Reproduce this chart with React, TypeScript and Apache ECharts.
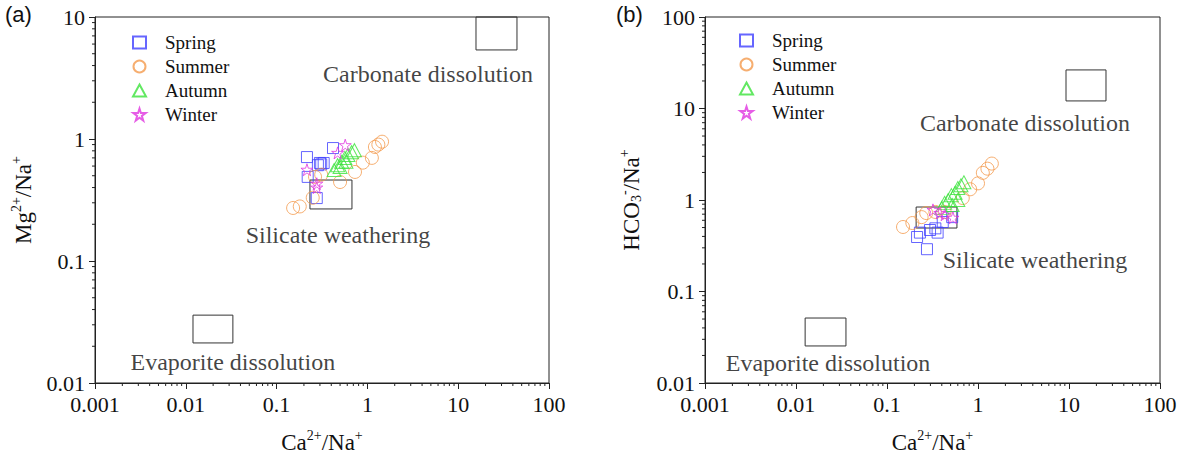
import React, { useEffect, useRef } from "react";
import * as echarts from "echarts";

// ---------- data ----------
const seasons = ["Spring", "Summer", "Autumn", "Winter"];

// Panel (a): Ca2+/Na+ vs Mg2+/Na+
const springA = [[0.216, 0.711], [0.418, 0.843], [0.30, 0.636], [0.33, 0.636], [0.285, 0.61], [0.22, 0.489], [0.277, 0.328], [0.31, 0.62]];
const summerA = [[0.152, 0.272], [0.18, 0.28], [0.25, 0.33], [0.265, 0.49], [0.31, 0.51], [0.50, 0.444], [0.73, 0.537], [0.89, 0.64], [1.12, 0.70], [1.21, 0.86], [1.32, 0.90], [1.45, 0.95]];
const autumnA = [[0.43, 0.557], [0.47, 0.61], [0.50, 0.59], [0.52, 0.65], [0.565, 0.70], [0.58, 0.65], [0.61, 0.74], [0.67, 0.78], [0.72, 0.81]];
const winterA = [[0.57, 0.89], [0.47, 0.77], [0.277, 0.43], [0.277, 0.40], [0.216, 0.56]];

// Panel (b): Ca2+/Na+ vs HCO3-/Na+
const springB = [[0.214, 0.394], [0.275, 0.29], [0.297, 0.47], [0.34, 0.49], [0.41, 0.575], [0.23, 0.44], [0.36, 0.44], [0.52, 0.65]];
const summerB = [[0.15, 0.507], [0.19, 0.56], [0.24, 0.65], [0.27, 0.72], [0.34, 0.74], [0.43, 0.74], [0.68, 1.05], [0.82, 1.31], [1.0, 1.52], [1.13, 1.98], [1.27, 2.2], [1.42, 2.5]];
const autumnB = [[0.40, 0.82], [0.43, 0.93], [0.47, 1.0], [0.51, 1.13], [0.56, 1.2], [0.60, 1.35], [0.65, 1.45], [0.70, 1.56], [0.52, 0.88], [0.60, 1.0]];
const winterB = [[0.32, 0.78], [0.43, 0.69], [0.53, 0.64], [0.38, 0.72]];

// End-member boxes [[xmin, ymin], [xmax, ymax]]
const boxesA = [
  [[15.7, 5.37], [44.4, 10]],
  [[0.233, 0.267], [0.676, 0.461]],
  [[0.012, 0.0213], [0.033, 0.036]],
];
const boxesB = [
  [[9.27, 12.1], [25.5, 26.4]],
  [[0.209, 0.494], [0.587, 0.838]],
  [[0.0126, 0.0254], [0.0354, 0.0513]],
];

// Region labels [x, y, text]
const labelsA: [number, number, string][] = [
  [4.65, 3.41, "Carbonate dissolution"],
  [0.474, 0.163, "Silicate weathering"],
  [0.033, 0.0149, "Evaporite dissolution"],
];
const labelsB: [number, number, string][] = [
  [3.28, 6.95, "Carbonate dissolution"],
  [4.23, 0.221, "Silicate weathering"],
  [0.0225, 0.0166, "Evaporite dissolution"],
];

const xRange = [0.001, 100];
const yRangeA = [0.01, 10];
const yRangeB = [0.01, 100];

// ---------- styling ----------
const SERIF = "'Liberation Serif', 'Times New Roman', serif";
const SANS = "'Liberation Sans', Arial, sans-serif";
const INK = "#111111";
const colors = ["#4040ff", "#f49a4c", "#3be23b", "#e035e0"];
const STAR = "path://M50,2 L61,37 L98,37 L68,59 L79,95 L50,73 L21,95 L32,59 L2,37 L39,37 Z";
const symbols = ["rect", "circle", "triangle", STAR];
const sizes: any[] = [11, 13, [14, 13], 12];

function minorValues(lo: number, hi: number) {
  const out: number[] = [];
  for (let d = lo; d < hi * 0.999; d *= 10) {
    for (let m = 2; m <= 9; m++) out.push(d * m);
  }
  return out;
}

function fmt(v: number) {
  return String(Number(v.toPrecision(1)));
}

function buildPanel(idx: number, yRange: number[], data: number[][][], boxes: number[][][], labels: [number, number, string][]) {
  const series: any[] = [];
  data.forEach((d, i) => {
    series.push({
      type: "scatter",
      name: seasons[i],
      xAxisIndex: idx,
      yAxisIndex: idx,
      data: d,
      symbol: symbols[i],
      symbolSize: sizes[i],
      itemStyle: { color: "rgba(0,0,0,0)", borderColor: colors[i], borderWidth: 1 },
      emphasis: { disabled: true },
      z: 3,
    });
  });
  // boxes + region labels
  series.push({
    type: "scatter",
    name: "regions" + idx,
    xAxisIndex: idx,
    yAxisIndex: idx,
    symbolSize: 0,
    silent: true,
    data: labels.map((l) => ({ value: [l[0], l[1]], name: l[2] })),
    label: {
      show: true,
      position: "inside",
      formatter: "{b}",
      fontFamily: SERIF,
      fontSize: 24,
      color: INK,
    },
    markArea: {
      silent: true,
      itemStyle: { color: "rgba(0,0,0,0)", borderColor: "#333", borderWidth: 1 },
      data: boxes.map((b) => [{ coord: b[0] }, { coord: b[1] }]),
    },
  });
  // minor ticks on x axis
  series.push({
    type: "custom",
    name: "xminor" + idx,
    xAxisIndex: idx,
    yAxisIndex: idx,
    silent: true,
    clip: false,
    data: minorValues(xRange[0], xRange[1]).map((v) => [v, yRange[0]]),
    renderItem: (params: any, api: any) => {
      const p = api.coord([api.value(0), api.value(1)]);
      return { type: "line", shape: { x1: p[0], y1: p[1], x2: p[0], y2: p[1] + 3 }, style: { stroke: "#222", lineWidth: 1 } };
    },
  });
  // minor ticks on y axis
  series.push({
    type: "custom",
    name: "yminor" + idx,
    xAxisIndex: idx,
    yAxisIndex: idx,
    silent: true,
    clip: false,
    data: minorValues(yRange[0], yRange[1]).map((v) => [xRange[0], v]),
    renderItem: (params: any, api: any) => {
      const p = api.coord([api.value(0), api.value(1)]);
      return { type: "line", shape: { x1: p[0], y1: p[1], x2: p[0] - 3, y2: p[1] }, style: { stroke: "#222", lineWidth: 1 } };
    },
  });
  return series;
}

const axisCommon = {
  type: "log",
  logBase: 10,
  axisLine: { show: true, lineStyle: { color: "#222", width: 1 } },
  axisTick: { show: true, inside: false, length: 6, lineStyle: { color: "#222" } },
  minorTick: { show: false },
  splitLine: { show: false },
  axisLabel: { fontFamily: SERIF, fontSize: 22, color: INK, formatter: fmt },
};

const richCommon = {
  n: { fontFamily: SERIF, fontSize: 23, color: INK, lineHeight: 26, verticalAlign: "bottom" },
  s: { fontFamily: SERIF, fontSize: 14, color: INK, lineHeight: 26, verticalAlign: "top" },
  b: { fontFamily: SERIF, fontSize: 14, color: INK, lineHeight: 26, verticalAlign: "bottom" },
};

const legendCommon = {
  data: seasons,
  orient: "vertical",
  padding: 0,
  itemWidth: 13,
  itemHeight: 12,
  itemGap: 5,
  selectedMode: false,
  textStyle: { fontFamily: SERIF, fontSize: 19, color: INK, padding: [0, 0, 0, 14] },
};

export default function App() {
  const ref = useRef<HTMLDivElement>(null);
  useEffect(() => {
    document.body.style.margin = "0";
    const chart = echarts.init(ref.current!, undefined, { renderer: "svg" });
    const option: any = {
      animation: false,
      backgroundColor: "#ffffff",
      grid: [
        { left: 95, right: 633, top: 17, bottom: 76, show: true, borderColor: "#222", borderWidth: 1, backgroundColor: "transparent" },
        { left: 705, right: 22, top: 17, bottom: 76, show: true, borderColor: "#222", borderWidth: 1, backgroundColor: "transparent" },
      ],
      xAxis: [0, 1].map((i) => ({
        ...axisCommon,
        gridIndex: i,
        min: xRange[0],
        max: xRange[1],
        axisLabel: { ...axisCommon.axisLabel, margin: 10 },
        name: "{n|Ca}{s|2+}{n|/Na}{s|+}",
        nameLocation: "middle",
        nameGap: 45,
        nameTextStyle: { rich: richCommon },
      })),
      yAxis: [
        {
          ...axisCommon,
          gridIndex: 0,
          min: yRangeA[0],
          max: yRangeA[1],
          axisLabel: { ...axisCommon.axisLabel, margin: 10 },
          name: "{n|Mg}{s|2+}{n|/Na}{s|+}",
          nameLocation: "middle",
          nameGap: 60,
          nameRotate: 90,
          nameTextStyle: { rich: richCommon },
        },
        {
          ...axisCommon,
          gridIndex: 1,
          min: yRangeB[0],
          max: yRangeB[1],
          axisLabel: { ...axisCommon.axisLabel, margin: 10 },
          name: "{n|HCO}{b|3}{s|-}{n|/Na}{s|+}",
          nameLocation: "middle",
          nameGap: 62,
          nameRotate: 90,
          nameTextStyle: { rich: richCommon },
        },
      ],
      legend: [
        { ...legendCommon, left: 132, top: 33 },
        { ...legendCommon, left: 739, top: 31 },
      ],
      graphic: [
        { type: "text", left: 5, top: 3, style: { text: "(a)", font: `22px ${SANS}`, fill: INK } },
        { type: "text", left: 616, top: 3, style: { text: "(b)", font: `22px ${SANS}`, fill: INK } },
      ],
      series: [
        ...buildPanel(0, yRangeA, [springA, summerA, autumnA, winterA], boxesA, labelsA),
        ...buildPanel(1, yRangeB, [springB, summerB, autumnB, winterB], boxesB, labelsB),
      ],
    };
    chart.setOption(option);
    return () => chart.dispose();
  }, []);
  return <div ref={ref} style={{ position: "absolute", left: 0, top: 0, width: 1182, height: 459 }} />;
}
